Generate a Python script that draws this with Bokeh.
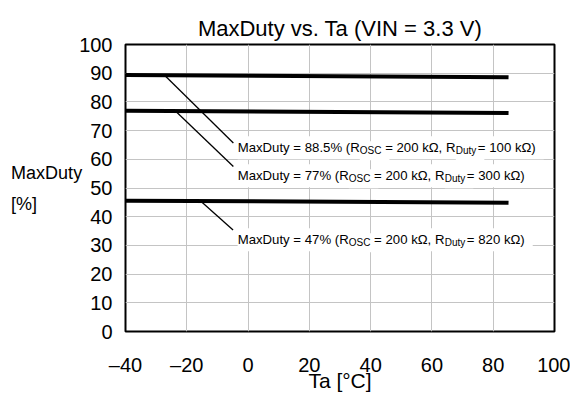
from bokeh.plotting import figure
from bokeh.models import Range1d, ColumnDataSource, FixedTicker
from bokeh.embed import file_html
from bokeh.resources import INLINE
from bokeh.core.properties import value

# ---- data ----
ta = [-40, 85]
duty_885 = [89.4, 88.6]
duty_77 = [76.9, 76.1]
duty_47 = [45.6, 44.9]

x_ticks = [-40, -20, 0, 20, 40, 60, 80, 100]
x_tick_labels = ["\u201340", "\u201320", "0", "20", "40", "60", "80", "100"]
y_ticks = [0, 10, 20, 30, 40, 50, 60, 70, 80, 90, 100]

leader_x0 = [-27.0, -23.7, -15.5]
leader_y0 = [89.0, 76.8, 45.5]
leader_x1 = [-4.8, -4.8, -4.9]
leader_y1 = [65.7, 57.5, 35.4]

label_x = [-3.4, -3.4, -3.4]
label_y = [64.0, 54.3, 32.0]
label_duty = ["88.5%", "77%", "47%"]
label_rosc = ["200 k\u03a9", "200 k\u03a9", "200 k\u03a9"]
label_rduty = ["100 k\u03a9", "300 k\u03a9", "820 k\u03a9"]

title_text = "MaxDuty vs. Ta (VIN = 3.3 V)"
x_label = "Ta [\u00b0C]"
y_label_lines = ["MaxDuty", "[%]"]

# ---- text width helper (Arial / Liberation Sans metrics) ----
W = {'M': 833, 'a': 556, 'x': 500, 'D': 722, 'u': 556, 't': 278, 'y': 500, ' ': 278,
     '=': 584, '.': 278, '%': 889, '(': 333, ')': 333, 'R': 722, 'O': 778, 'S': 667,
     'C': 722, 'k': 500, '\u03a9': 768, ',': 278, '[': 278, ']': 278, '\u00a0': 278}


def tw(s, size):
    return sum(W.get(c, 556) for c in s) / 1000.0 * size


SANS = "Liberation Sans"
MAIN_FS = 13.2
SUB_FS = 10.0
YLAB_FS = 18

# left-align the two lines of the horizontal y-axis label (lines are right-aligned
# by the axis), by padding the short line with no-break spaces
wmax = max(tw(s, YLAB_FS) for s in y_label_lines)
padded = []
for s in y_label_lines:
    n = int(round((wmax - tw(s, YLAB_FS)) / tw("\u00a0", YLAB_FS)))
    padded.append(s + "\u00a0" * n)
y_label = "\n".join(padded)

p = figure(width=570, height=394, output_backend="svg", toolbar_location=None,
           x_range=Range1d(-40, 100), y_range=Range1d(0, 100),
           min_border_left=125, min_border_right=16, min_border_top=44, min_border_bottom=62)

p.outline_line_color = "black"
p.outline_line_width = 2
p.background_fill_color = "white"
p.border_fill_color = "white"

p.title.text = title_text
p.title.text_font = SANS
p.title.text_font_size = "22px"
p.title.text_font_style = "normal"
p.title.text_color = "black"
p.title.align = "center"
p.title.offset = 7
p.title.standoff = 8

for ax in (p.xaxis[0], p.yaxis[0]):
    ax.axis_line_color = None
    ax.major_tick_line_color = None
    ax.minor_tick_line_color = None
    ax.major_tick_out = 0
    ax.major_tick_in = 0
    ax.major_label_text_font = SANS
    ax.major_label_text_font_size = "20px"
    ax.major_label_text_color = "black"
    ax.axis_label_text_font = SANS
    ax.axis_label_text_font_style = "normal"
    ax.axis_label_text_color = "black"

xa = p.xaxis[0]
xa.ticker = FixedTicker(ticks=x_ticks)
xa.major_label_overrides = {t: l for t, l in zip(x_ticks, x_tick_labels)}
xa.major_label_standoff = 22
xa.axis_label = x_label
xa.axis_label_text_font_size = "21px"
xa.axis_label_standoff = -10

ya = p.yaxis[0]
ya.ticker = FixedTicker(ticks=y_ticks)
ya.major_label_standoff = 13
ya.axis_label = y_label
ya.axis_label_orientation = "horizontal"
ya.axis_label_text_font_size = "%dpx" % YLAB_FS
ya.axis_label_text_line_height = 1.55
ya.axis_label_standoff = -6

p.xgrid.grid_line_color = "#c4c4c4"
p.ygrid.grid_line_color = "#c4c4c4"
p.xgrid.grid_line_width = 1
p.ygrid.grid_line_width = 1

# series lines
for ys in (duty_885, duty_77, duty_47):
    p.line(ta, ys, line_color="black", line_width=4)

# leader lines
p.segment(x0=leader_x0, y0=leader_y0, x1=leader_x1, y1=leader_y1,
          line_color="black", line_width=1.3)

# label segments (main text + subscripts); leading spaces are given as offsets
seg = dict(x=[], y=[], text=[], xo=[], yo=[], size=[])
for i in range(3):
    parts = [("MaxDuty = %s (R" % label_duty[i], False, 0.0),
             ("OSC", True, 0.0),
             ("= %s, R" % label_rosc[i], False, tw(" ", MAIN_FS)),
             ("Duty", True, 0.0),
             ("= %s)" % label_rduty[i], False, 1.5)]
    off = 0.0
    for t, sub, gap in parts:
        fs = SUB_FS if sub else MAIN_FS
        off += gap
        seg["x"].append(label_x[i])
        seg["y"].append(label_y[i])
        seg["text"].append(t)
        seg["xo"].append(off)
        seg["yo"].append(3 if sub else 0)
        seg["size"].append("%gpx" % fs)
        off += tw(t, fs)
src = ColumnDataSource(seg)

p.text(x="x", y="y", text="text", x_offset="xo", y_offset="yo", source=src,
       text_font_size="size", text_font=value(SANS), text_baseline="alphabetic",
       text_align="left", text_alpha=0, background_fill_color="white", padding=4)
p.text(x="x", y="y", text="text", x_offset="xo", y_offset="yo", source=src,
       text_font_size="size", text_font=value(SANS), text_baseline="alphabetic",
       text_align="left", text_color="black")

open("out.html", "w").write(file_html(p, INLINE))
